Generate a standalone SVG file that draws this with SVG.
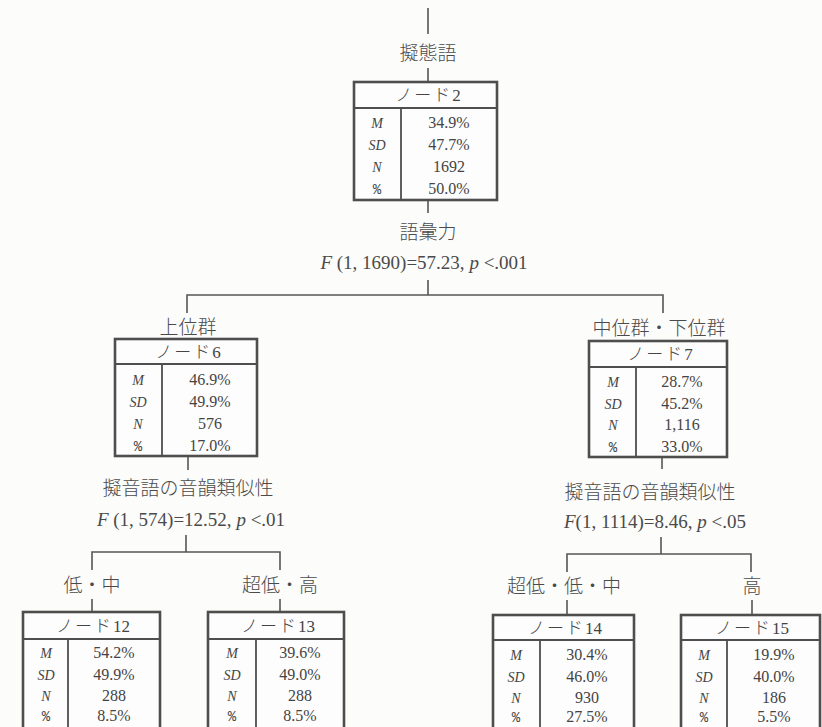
<svg xmlns="http://www.w3.org/2000/svg" width="822" height="727" viewBox="0 0 822 727">
<style>
.bg{fill:#fcfcfb}
.ln{stroke:#555;stroke-width:1.6;fill:none}
.box{fill:#fdfdfd;stroke:#4e4e4e;stroke-width:2.6}
.sep{stroke:#4e4e4e;stroke-width:2.2}
.div{stroke:#4e4e4e;stroke-width:1.8}
.jp{font-family:"Noto Sans CJK JP","Noto Sans",sans-serif;font-weight:300;font-size:19px;fill:#4a4a4a;text-anchor:middle}
.hd{font-family:"Noto Sans CJK JP",sans-serif;font-weight:300;font-size:17px;letter-spacing:2px;fill:#444;text-anchor:middle}
.hn{font-family:"Liberation Serif",serif;font-size:17px;letter-spacing:0}
.num{font-family:"Liberation Serif",serif;font-size:16px;fill:#444;text-anchor:middle}
.st{font-family:"Liberation Serif",serif;font-size:19px;fill:#4a4a4a;text-anchor:middle}
.lab{font-family:"Liberation Serif",serif;font-style:italic;font-size:14px;fill:#444;text-anchor:middle}
.pc{font-family:"Liberation Mono",monospace;font-size:14px;fill:#444;text-anchor:middle}
.it{font-style:italic}
</style>
<rect class="bg" x="0" y="0" width="822" height="727"/>
<g id="connectors">
<line class="ln" x1="428" y1="8" x2="428" y2="34"/>
<line class="ln" x1="428" y1="68" x2="428" y2="82"/>
<line class="ln" x1="428" y1="200" x2="428" y2="213"/>
<line class="ln" x1="428" y1="280" x2="428" y2="295"/>
<polyline class="ln" points="187,313 187,295 663,295 663,313"/>
<line class="ln" x1="188" y1="456" x2="188" y2="470"/>
<line class="ln" x1="186" y1="535" x2="186" y2="552"/>
<polyline class="ln" points="92,570 92,552 280,552 280,570"/>
<line class="ln" x1="92" y1="599" x2="92" y2="612"/>
<line class="ln" x1="280" y1="599" x2="280" y2="612"/>
<line class="ln" x1="662" y1="457" x2="662" y2="469"/>
<line class="ln" x1="661" y1="537" x2="661" y2="554"/>
<polyline class="ln" points="567,572 567,554 751,554 751,572"/>
<line class="ln" x1="567" y1="600" x2="567" y2="615"/>
<line class="ln" x1="752" y1="600" x2="752" y2="615"/>
</g>
<g id="labels">
<text class="jp" x="428" y="60">擬態語</text>
<text class="jp" x="428" y="239">語彙力</text>
<text class="st" x="424" y="269"><tspan class="it">F</tspan> (1, 1690)=57.23, <tspan class="it">p</tspan> &lt;.001</text>
<text class="jp" x="188" y="334">上位群</text>
<text class="jp" x="659" y="335">中位群・下位群</text>
<text class="jp" x="188" y="495">擬音語の音韻類似性</text>
<text class="st" x="191" y="526"><tspan class="it">F</tspan> (1, 574)=12.52, <tspan class="it">p</tspan> &lt;.01</text>
<text class="jp" x="650" y="499">擬音語の音韻類似性</text>
<text class="st" x="655" y="528"><tspan class="it">F</tspan>(1, 1114)=8.46, <tspan class="it">p</tspan> &lt;.05</text>
<text class="jp" x="92" y="592">低・中</text>
<text class="jp" x="280" y="592">超低・高</text>
<text class="jp" x="564" y="593">超低・低・中</text>
<text class="jp" x="752" y="593">高</text>
</g>
<g id="node2">
<rect class="box" x="354" y="82" width="143" height="118"/>
<line class="sep" x1="354" y1="108" x2="497" y2="108"/>
<line class="div" x1="401" y1="108" x2="401" y2="200"/>
<text class="hd" x="428" y="101">ノード<tspan class="hn">2</tspan></text>
<text class="lab" x="377" y="128">M</text><text class="num" x="449" y="128">34.9%</text>
<text class="lab" x="377" y="150">SD</text><text class="num" x="449" y="150">47.7%</text>
<text class="lab" x="377" y="172">N</text><text class="num" x="449" y="172">1692</text>
<text class="pc" x="377" y="194">%</text><text class="num" x="449" y="194">50.0%</text>
</g>
<g id="node6">
<rect class="box" x="115" y="339" width="142" height="117"/>
<line class="sep" x1="115" y1="364" x2="257" y2="364"/>
<line class="div" x1="162" y1="364" x2="162" y2="456"/>
<text class="hd" x="188" y="358">ノード<tspan class="hn">6</tspan></text>
<text class="lab" x="138" y="385">M</text><text class="num" x="210" y="385">46.9%</text>
<text class="lab" x="138" y="407">SD</text><text class="num" x="210" y="407">49.9%</text>
<text class="lab" x="138" y="429">N</text><text class="num" x="210" y="429">576</text>
<text class="pc" x="138" y="451">%</text><text class="num" x="210" y="451">17.0%</text>
</g>
<g id="node7">
<rect class="box" x="589" y="341" width="138" height="116"/>
<line class="sep" x1="589" y1="367" x2="727" y2="367"/>
<line class="div" x1="636" y1="367" x2="636" y2="457"/>
<text class="hd" x="660" y="360">ノード<tspan class="hn">7</tspan></text>
<text class="lab" x="613" y="387">M</text><text class="num" x="682" y="387">28.7%</text>
<text class="lab" x="613" y="409">SD</text><text class="num" x="682" y="409">45.2%</text>
<text class="lab" x="613" y="430">N</text><text class="num" x="682" y="430">1,116</text>
<text class="pc" x="613" y="452">%</text><text class="num" x="682" y="452">33.0%</text>
</g>
<g id="node12">
<rect class="box" x="23" y="612" width="137" height="130"/>
<line class="sep" x1="23" y1="639" x2="160" y2="639"/>
<line class="div" x1="68" y1="639" x2="68" y2="742"/>
<text class="hd" x="93" y="632">ノード<tspan class="hn">12</tspan></text>
<text class="lab" x="46" y="658">M</text><text class="num" x="114" y="658">54.2%</text>
<text class="lab" x="46" y="680">SD</text><text class="num" x="114" y="680">49.9%</text>
<text class="lab" x="46" y="701">N</text><text class="num" x="114" y="701">288</text>
<text class="pc" x="46" y="721">%</text><text class="num" x="114" y="721">8.5%</text>
</g>
<g id="node13">
<rect class="box" x="208" y="612" width="136" height="130"/>
<line class="sep" x1="208" y1="639" x2="344" y2="639"/>
<line class="div" x1="256" y1="639" x2="256" y2="742"/>
<text class="hd" x="278" y="632">ノード<tspan class="hn">13</tspan></text>
<text class="lab" x="232" y="658">M</text><text class="num" x="300" y="658">39.6%</text>
<text class="lab" x="232" y="680">SD</text><text class="num" x="300" y="680">49.0%</text>
<text class="lab" x="232" y="701">N</text><text class="num" x="300" y="701">288</text>
<text class="pc" x="232" y="721">%</text><text class="num" x="300" y="721">8.5%</text>
</g>
<g id="node14">
<rect class="box" x="493" y="615" width="141" height="130"/>
<line class="sep" x1="493" y1="640" x2="634" y2="640"/>
<line class="div" x1="540" y1="640" x2="540" y2="745"/>
<text class="hd" x="565" y="634">ノード<tspan class="hn">14</tspan></text>
<text class="lab" x="516" y="660">M</text><text class="num" x="587" y="660">30.4%</text>
<text class="lab" x="516" y="682">SD</text><text class="num" x="587" y="682">46.0%</text>
<text class="lab" x="516" y="703">N</text><text class="num" x="587" y="703">930</text>
<text class="pc" x="516" y="722">%</text><text class="num" x="587" y="722">27.5%</text>
</g>
<g id="node15">
<rect class="box" x="681" y="615" width="139" height="130"/>
<line class="sep" x1="681" y1="640" x2="820" y2="640"/>
<line class="div" x1="727" y1="640" x2="727" y2="745"/>
<text class="hd" x="752" y="634">ノード<tspan class="hn">15</tspan></text>
<text class="lab" x="704" y="660">M</text><text class="num" x="774" y="660">19.9%</text>
<text class="lab" x="704" y="682">SD</text><text class="num" x="774" y="682">40.0%</text>
<text class="lab" x="704" y="703">N</text><text class="num" x="774" y="703">186</text>
<text class="pc" x="704" y="722">%</text><text class="num" x="774" y="722">5.5%</text>
</g>
</svg>
